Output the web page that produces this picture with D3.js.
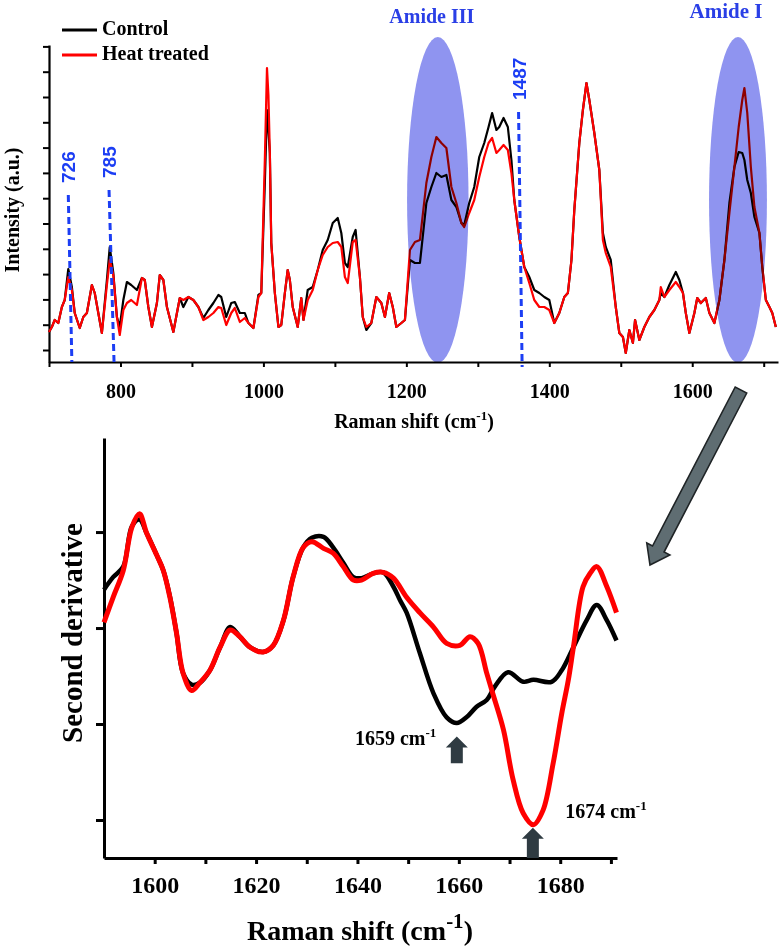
<!DOCTYPE html>
<html><head><meta charset="utf-8">
<script src="https://cdn.jsdelivr.net/npm/d3@7/dist/d3.min.js"></script>
<style>body{margin:0;background:#fff}svg{display:block}</style>
</head><body>
<svg id="c" width="782" height="947"></svg>
<script>
// ---------- top panel data (Raman spectrum) ----------
const wn = [700,704,708,713,718,722,727,732,736,743,748,753,760,764,769,774,781,785,790,795,799,804,809,815,823,830,834,839,844,851,855,860,865,874,879,883,888,895,902,909,916,923,930,937,941,948,955,960,967,974,979,986,993,997,1002,1005,1007,1009,1011,1016,1021,1025,1030,1034,1037,1041,1048,1053,1056,1062,1069,1076,1083,1090,1097,1104,1109,1114,1118,1125,1129,1135,1139,1144,1151,1158,1165,1170,1176,1181,1186,1193,1198,1205,1212,1219,1228,1235,1242,1249,1256,1263,1270,1277,1281,1288,1295,1302,1309,1315,1320,1326,1330,1336,1342,1347,1351,1358,1365,1372,1379,1386,1393,1400,1407,1414,1421,1426,1431,1435,1442,1447,1452,1456,1463,1470,1475,1479,1486,1493,1498,1503,1507,1512,1517,1520,1526,1533,1540,1547,1554,1556,1561,1568,1577,1582,1587,1591,1596,1603,1607,1612,1619,1624,1631,1638,1645,1652,1659,1665,1670,1673,1677,1682,1687,1694,1698,1703,1708,1712,1717];
const control = [18,23,30,27,43,50,81,63,37,22,33,37,65,57,37,17,70,103,77,33,23,50,68,65,60,72,70,43,23,47,75,70,43,18,37,52,43,53,50,43,32,40,47,55,53,33,47,48,37,37,27,22,55,57,167,240,220,197,107,57,23,25,57,80,70,43,23,52,30,60,63,80,100,110,127,132,117,87,83,113,120,73,33,20,27,53,47,33,57,43,23,27,30,90,87,87,147,163,177,173,175,150,143,127,125,147,163,193,207,223,237,220,223,232,223,190,150,113,83,73,60,57,53,50,27,37,53,57,90,140,207,240,267,250,217,180,117,103,90,43,17,13,-3,20,7,30,10,23,33,40,50,57,53,65,78,70,57,37,17,37,52,47,52,37,27,50,90,147,183,198,197,190,170,157,133,117,83,50,43,37,23];
const heat = [18,23,30,27,43,50,73,60,37,22,33,37,65,57,37,17,65,90,75,33,15,40,47,50,45,72,70,43,23,47,75,70,43,18,37,52,50,53,50,43,30,33,37,43,42,25,37,42,28,32,27,22,53,57,190,282,255,197,107,57,23,25,57,80,70,43,23,52,30,50,60,80,95,103,107,108,103,73,67,108,110,73,33,23,27,53,47,33,57,43,23,27,30,100,108,110,167,193,213,207,202,163,147,127,123,137,150,173,193,207,212,197,200,205,200,177,150,113,83,67,50,43,43,40,27,37,53,57,90,140,207,240,267,250,217,180,110,97,83,43,17,13,-3,20,7,30,10,23,33,40,50,63,53,60,68,63,57,37,17,37,52,47,52,37,27,50,90,137,183,223,250,262,237,183,143,117,83,50,43,37,23];
const topXTicks = [700,800,900,1000,1100,1200,1300,1400,1500,1600,1700];
const topXLabels = [800,1000,1200,1400,1600];
const topYTicks = d3.range(0, 305, 25.3);
const seriesNames = ["Control","Heat treated"];
const seriesColors = ["#000000","#ff0000"];
// highlighted bands: [label, centre, half width]
const bandLabels = ["Amide III","Amide I"];
const bandCentres = [1244, 1664];
const bandHalfWidths = [43, 40.5];
// marker lines: label, x at top, x at bottom, top value, bottom value
const markLabels = ["726","785","1487"];
const markXTop = [727, 784, 1357];
const markXBottom = [732, 791, 1362];
const markTop = [155, 160, 238];
const markBottom = [-12, -12, -17];

// ---------- bottom panel data (second derivative) ----------
const wn2 = [1590,1591.8,1593.8,1595.5,1597,1598.4,1600.4,1601.7,1603,1604.3,1605.6,1607.3,1608.9,1610.9,1612.9,1614.9,1616.8,1618.8,1621.4,1623.4,1625.4,1627.3,1629.3,1631,1633.3,1635.2,1637.2,1639.2,1640.8,1643.1,1645.1,1647.1,1648.4,1649.7,1652.3,1655,1657.6,1659.6,1661.5,1663.5,1665.5,1667.1,1669.7,1672.7,1674.7,1678.3,1680.3,1682.6,1685.2,1687.2,1689.2,1691.1];
const control2 = [0.40,0.53,0.64,1.06,1.13,0.99,0.76,0.60,0.33,-0.05,-0.47,-0.59,-0.57,-0.44,-0.20,0.01,-0.09,-0.20,-0.25,-0.18,0.08,0.53,0.84,0.94,0.95,0.84,0.68,0.53,0.52,0.57,0.58,0.43,0.29,0.16,-0.26,-0.68,-0.93,-0.99,-0.93,-0.82,-0.75,-0.61,-0.46,-0.56,-0.54,-0.56,-0.44,-0.20,0.08,0.24,0.08,-0.13];
const wn2h = [1590,1591.8,1593.8,1595.5,1597,1598.4,1600.4,1601.7,1603,1604.3,1605.6,1607.3,1608.9,1610.9,1612.9,1614.9,1616.8,1618.8,1621.4,1623.4,1625.4,1627.3,1629.3,1631,1633.3,1635.2,1637.2,1639.2,1640.8,1643.1,1645.1,1647.1,1649.7,1652.3,1655,1657.6,1660.2,1662.2,1663.8,1665.5,1666.8,1668.8,1670.7,1672.7,1674.7,1676.6,1678.6,1680.3,1681.6,1682.6,1684.5,1685.9,1687.2,1689.2,1691.1];
const heat2 = [0.06,0.32,0.60,1.05,1.19,0.99,0.76,0.60,0.32,-0.05,-0.47,-0.65,-0.57,-0.44,-0.20,-0.02,-0.09,-0.20,-0.25,-0.18,0.08,0.53,0.84,0.90,0.83,0.78,0.64,0.50,0.50,0.57,0.58,0.52,0.32,0.16,0.01,-0.16,-0.18,-0.09,-0.16,-0.47,-0.70,-1.06,-1.58,-1.93,-2.05,-1.90,-1.41,-0.89,-0.54,-0.20,0.43,0.57,0.64,0.43,0.16];
const botXTicks = [1600,1610,1620,1630,1640,1650,1660,1670,1680,1690];
const botXLabels = [1600,1620,1640,1660,1680];
const botYTicks = [-2,-1,0,1];
// minima annotations
const minLabels = ["1659","1674"];
const minPos = [1659.6, 1674.6];
const minTip = [-1.13, -2.08];
const minBase = [-1.41, -2.396];

const serif = "'Liberation Serif','Times New Roman',serif";
const sans = "'Liberation Sans',Arial,sans-serif";
const svg = d3.select("#c");

// ================= TOP PANEL =================
const x1 = d3.scaleLinear().domain([700,1720]).range([49,778]);
const y1 = d3.scaleLinear().domain([-12,305]).range([362,45]);

const topG = svg.append("g");
const ax1 = topG.append("g").attr("transform","translate(0,"+y1(-12)+")")
  .call(d3.axisBottom(x1).tickValues(topXTicks).tickSize(5).tickSizeOuter(0)
    .tickFormat(d => topXLabels.includes(d) ? d : ""));
const ay1 = topG.append("g").attr("transform","translate("+x1(700)+",0)")
  .call(d3.axisLeft(y1).tickValues(topYTicks).tickSize(6).tickSizeOuter(0).tickFormat(""));
[ax1, ay1].forEach(a => {
  a.select(".domain").attr("stroke","#000").attr("stroke-width",2.2);
  a.selectAll(".tick line").attr("stroke","#000").attr("stroke-width",2);
});
ax1.selectAll(".tick text").attr("y",22).attr("font-family",serif).attr("font-weight","bold").attr("font-size",20).attr("fill","#000");

const line1 = (vals) => d3.line().x((d,i)=>x1(wn[i])).y(d=>y1(d))(vals);
topG.append("path").attr("d",line1(control)).attr("fill","none").attr("stroke",seriesColors[0]).attr("stroke-width",2.2).attr("stroke-linejoin","round");
topG.append("path").attr("d",line1(heat)).attr("fill","none").attr("stroke",seriesColors[1]).attr("stroke-width",2.2).attr("stroke-linejoin","round");

// shaded ellipses (multiply blend so the curves show through)
bandCentres.forEach((c,i) => {
  topG.append("ellipse")
    .attr("cx", x1(c)).attr("rx", x1(c+bandHalfWidths[i]) - x1(c))
    .attr("cy", y1(150)).attr("ry", 163)
    .attr("fill","#8f94f0").style("mix-blend-mode","multiply");
  topG.append("text").attr("x", x1(c) - (i===0? 6: 12)).attr("y", i===0? 23: 18)
    .attr("text-anchor","middle").attr("font-family",serif).attr("font-weight","bold")
    .attr("font-size", i===0? 20: 21).attr("fill","#2a3fe6").text(bandLabels[i]);
});

// dashed marker lines + labels
markLabels.forEach((lab,i) => {
  topG.append("line").attr("x1",x1(markXTop[i])).attr("x2",x1(markXBottom[i]))
    .attr("y1",y1(markTop[i])).attr("y2",y1(markBottom[i]))
    .attr("stroke","#1c3ef4").attr("stroke-width",3).attr("stroke-dasharray","7,4");
  const tx = x1(markXTop[i]) + 7, ty = y1(markTop[i]) - 12;
  topG.append("text").attr("transform","translate("+tx+","+ty+") rotate(-90)")
    .attr("font-family",sans).attr("font-weight","bold").attr("font-size",19)
    .attr("fill","#1c3ef4").text(lab);
});

// legend
seriesNames.forEach((n,i) => {
  const ly = 30 + i*25;
  topG.append("line").attr("x1",62).attr("x2",97).attr("y1",ly).attr("y2",ly)
    .attr("stroke",seriesColors[i]).attr("stroke-width",3);
  topG.append("text").attr("x",102).attr("y",ly+5).attr("font-family",serif)
    .attr("font-weight","bold").attr("font-size",20).attr("fill","#000").text(n);
});

// axis titles
const t1 = topG.append("text").attr("x",414).attr("y",428).attr("text-anchor","middle")
  .attr("font-family",serif).attr("font-weight","bold").attr("font-size",20).attr("fill","#000");
t1.append("tspan").text("Raman shift (cm");
t1.append("tspan").attr("dy",-8).attr("font-size",13).text("-1");
t1.append("tspan").attr("dy",8).text(")");
topG.append("text").attr("transform","translate(19,210) rotate(-90)").attr("text-anchor","middle")
  .attr("font-family",serif).attr("font-weight","bold").attr("font-size",20).attr("fill","#000")
  .text("Intensity (a.u.)");

// connecting arrow
const ang = Math.atan2(565-390, 650-741) * 180 / Math.PI;
const L = Math.hypot(565-390, 650-741);
svg.append("path")
  .attr("transform","translate(741,390) rotate("+ang+")")
  .attr("d", `M0,-6.5 L${L-18},-6.5 L${L-18},-13 L${L},0 L${L-18},13 L${L-18},6.5 L0,6.5 Z`)
  .attr("fill","#5f6d72").attr("stroke","#1f2426").attr("stroke-width",1.6);

// ================= BOTTOM PANEL =================
const x2 = d3.scaleLinear().domain([1590,1691.2]).range([104,617]);
const y2 = d3.scaleLinear().domain([-2.396,1.98]).range([858,438]);
const botG = svg.append("g");
const ax2 = botG.append("g").attr("transform","translate(0,"+y2(-2.396)+")")
  .call(d3.axisBottom(x2).tickValues(botXTicks).tickSize(6).tickSizeOuter(0)
    .tickFormat(d => botXLabels.includes(d) ? d : ""));
const ay2 = botG.append("g").attr("transform","translate("+x2(1590)+",0)")
  .call(d3.axisLeft(y2).tickValues(botYTicks).tickSize(8).tickSizeOuter(0).tickFormat(""));
[ax2, ay2].forEach(a => {
  a.select(".domain").attr("stroke","#000").attr("stroke-width",3);
  a.selectAll(".tick line").attr("stroke","#000").attr("stroke-width",3);
});
ax2.selectAll(".tick text").attr("y",18).attr("font-family",serif).attr("font-weight","bold").attr("font-size",24).attr("fill","#000");

const curve2 = (xs, vals) => d3.line().curve(d3.curveCatmullRom.alpha(0.5)).x((d,i)=>x2(xs[i])).y(d=>y2(d))(vals);
botG.append("path").attr("d",curve2(wn2,control2)).attr("fill","none").attr("stroke",seriesColors[0]).attr("stroke-width",4.5).attr("stroke-linejoin","round");
botG.append("path").attr("d",curve2(wn2h,heat2)).attr("fill","none").attr("stroke",seriesColors[1]).attr("stroke-width",5).attr("stroke-linejoin","round");

// minima arrows and labels
minPos.forEach((p,i) => {
  const cx = x2(p), tip = y2(minTip[i]), base = y2(minBase[i]);
  botG.append("path").attr("d",`M${cx},${tip} L${cx+11},${tip+11} L${cx+6},${tip+11} L${cx+6},${base} L${cx-6},${base} L${cx-6},${tip+11} L${cx-11},${tip+11} Z`)
    .attr("fill","#2f3b42");
});
const lab1 = botG.append("text").attr("x",x2(1639.5)).attr("y",y2(-1.22)).attr("font-family",serif).attr("font-weight","bold").attr("font-size",20).attr("fill","#000");
lab1.append("tspan").text(minLabels[0]+" cm");
lab1.append("tspan").attr("dy",-8).attr("font-size",13).text("-1");
const lab2 = botG.append("text").attr("x",x2(1681)).attr("y",y2(-1.98)).attr("font-family",serif).attr("font-weight","bold").attr("font-size",20).attr("fill","#000");
lab2.append("tspan").text(minLabels[1]+" cm");
lab2.append("tspan").attr("dy",-8).attr("font-size",13).text("-1");

// axis titles
const t2 = botG.append("text").attr("x",360).attr("y",940).attr("text-anchor","middle")
  .attr("font-family",serif).attr("font-weight","bold").attr("font-size",28).attr("fill","#000");
t2.append("tspan").text("Raman shift (cm");
t2.append("tspan").attr("dy",-12).attr("font-size",21).text("-1");
t2.append("tspan").attr("dy",12).text(")");
botG.append("text").attr("transform","translate(82,633) rotate(-90)").attr("text-anchor","middle")
  .attr("font-family",serif).attr("font-weight","bold").attr("font-size",29).attr("fill","#000")
  .text("Second derivative");
</script>
</body></html>
